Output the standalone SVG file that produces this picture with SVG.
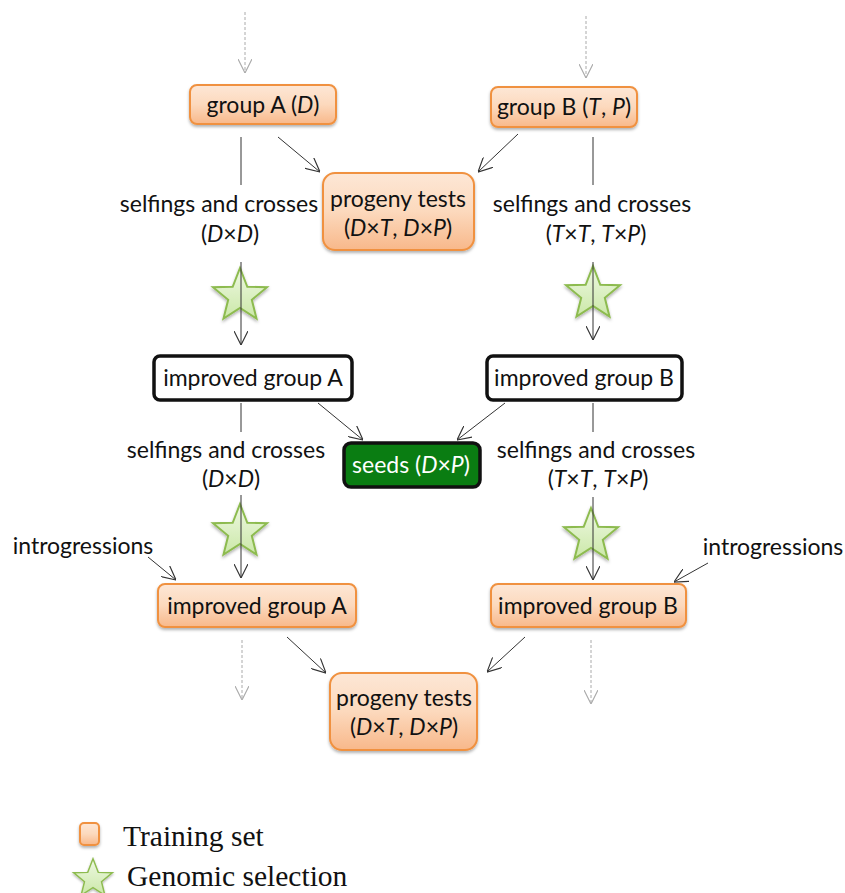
<svg xmlns="http://www.w3.org/2000/svg" width="845" height="893" viewBox="0 0 845 893">
<style>
.t{font-family:Lato,"Liberation Sans",sans-serif;font-size:23px;fill:#111;text-anchor:middle}
.i{font-style:italic}
.ob{fill:url(#og);stroke:#f0913f;stroke-width:2;filter:url(#sh)}
.wb{fill:#fff;stroke:#111;stroke-width:3.5}
.st{fill:url(#sg);stroke:#8dbb4f;stroke-width:2;filter:url(#sh)}
.c{stroke:#333;stroke-width:1;fill:none}
.ca{stroke:#333;stroke-width:1;fill:none;marker-end:url(#ah)}
.d{stroke:#aaa;stroke-width:1;fill:none;stroke-dasharray:3,2;marker-end:url(#dh)}
.lg{font-family:"Liberation Serif",serif;font-size:29.5px;fill:#111}
</style>
<defs>
<linearGradient id="og" x1="0" y1="0" x2="0" y2="1">
<stop offset="0" stop-color="#fde7d6"/><stop offset="0.5" stop-color="#fcd9bd"/><stop offset="1" stop-color="#f8b88a"/>
</linearGradient>
<linearGradient id="sg" x1="0" y1="0" x2="0" y2="1">
<stop offset="0" stop-color="#eef8e2"/><stop offset="1" stop-color="#cbe8a8"/>
</linearGradient>
<filter id="sh" x="-20%" y="-20%" width="140%" height="150%">
<feDropShadow dx="0" dy="2" stdDeviation="1.5" flood-color="#000" flood-opacity="0.3"/>
</filter>
<marker id="ah" viewBox="0 0 12 12" refX="12" refY="6" markerWidth="14" markerHeight="14" markerUnits="userSpaceOnUse" orient="auto">
<path d="M0,0 L12,6 L0,12" fill="none" stroke="#333" stroke-width="1"/>
</marker>
<marker id="dh" viewBox="0 0 12 12" refX="12" refY="6" markerWidth="14" markerHeight="14" markerUnits="userSpaceOnUse" orient="auto">
<path d="M0,0 L12,6 L0,12" fill="none" stroke="#aaa" stroke-width="1"/>
</marker>
<path id="star" d="M0,-28 L7.3,-9.2 L27,-8.8 L11.8,3.8 L16.5,22.6 L0,12 L-16.5,22.6 L-11.8,3.8 L-27,-8.8 L-7.3,-9.2 Z"/>
</defs>

<g id="stars">
<use href="#star" class="st" x="240" y="296"/>
<use href="#star" class="st" x="593" y="294"/>
<use href="#star" class="st" x="240" y="532"/>
<use href="#star" class="st" x="591" y="536"/>
</g>

<g id="connectors">
<line class="d" x1="245" y1="12" x2="245" y2="73"/>
<line class="d" x1="586" y1="16" x2="586" y2="78"/>
<line class="ca" x1="278" y1="137" x2="320" y2="172"/>
<line class="ca" x1="518" y1="134" x2="478" y2="172"/>
<line class="c" x1="241" y1="137" x2="241" y2="185"/>
<line class="ca" x1="241" y1="262" x2="241" y2="345"/>
<line class="c" x1="593" y1="137" x2="593" y2="185"/>
<line class="ca" x1="593" y1="262" x2="593" y2="340"/>
<line class="ca" x1="318" y1="403" x2="363" y2="440"/>
<line class="ca" x1="505" y1="403" x2="457" y2="440"/>
<line class="c" x1="241" y1="403" x2="241" y2="432"/>
<line class="ca" x1="241" y1="495" x2="241" y2="578"/>
<line class="c" x1="593" y1="403" x2="593" y2="432"/>
<line class="ca" x1="593" y1="497" x2="593" y2="580"/>
<line class="ca" x1="148" y1="557" x2="176" y2="580"/>
<line class="ca" x1="708" y1="563" x2="674" y2="582"/>
<line class="d" x1="242" y1="640" x2="242" y2="700"/>
<line class="d" x1="591" y1="640" x2="591" y2="704"/>
<line class="ca" x1="287" y1="637" x2="326" y2="673"/>
<line class="ca" x1="525" y1="637" x2="487" y2="672"/>
</g>

<g id="groupA">
<rect class="ob" x="190" y="85" width="146" height="39" rx="7"/>
<text class="t" x="263" y="113">group A (<tspan class="i">D</tspan>)</text>
</g>
<g id="groupB">
<rect class="ob" x="491" y="87" width="146" height="40" rx="7"/>
<text class="t" x="564" y="115">group B (<tspan class="i">T</tspan>, <tspan class="i">P</tspan>)</text>
</g>
<g id="progeny1">
<rect class="ob" x="323" y="173" width="151" height="77" rx="12"/>
<text class="t" x="398" y="207">progeny tests</text>
<text class="t" x="398" y="236">(<tspan class="i">D</tspan>×<tspan class="i">T</tspan>, <tspan class="i">D</tspan>×<tspan class="i">P</tspan>)</text>
</g>
<g id="labelA1">
<text class="t" x="219" y="212">selfings and crosses</text>
<text class="t" x="230" y="242">(<tspan class="i">D</tspan>×<tspan class="i">D</tspan>)</text>
</g>
<g id="labelB1">
<text class="t" x="592" y="212">selfings and crosses</text>
<text class="t" x="596" y="242">(<tspan class="i">T</tspan>×<tspan class="i">T</tspan>, <tspan class="i">T</tspan>×<tspan class="i">P</tspan>)</text>
</g>
<g id="improvedA1">
<rect class="wb" x="154" y="356" width="198" height="44" rx="6"/>
<text class="t" x="253" y="386">improved group A</text>
</g>
<g id="improvedB1">
<rect class="wb" x="487" y="356" width="195" height="44" rx="6"/>
<text class="t" x="584" y="386">improved group B</text>
</g>
<g id="seeds">
<rect x="344" y="443" width="136" height="44" rx="7" fill="#0a7d12" stroke="#111" stroke-width="3.5"/>
<text class="t" x="411" y="473" style="fill:#fff">seeds (<tspan class="i">D</tspan>×<tspan class="i">P</tspan>)</text>
</g>
<g id="labelA2">
<text class="t" x="226" y="458">selfings and crosses</text>
<text class="t" x="231" y="487">(<tspan class="i">D</tspan>×<tspan class="i">D</tspan>)</text>
</g>
<g id="labelB2">
<text class="t" x="596" y="458">selfings and crosses</text>
<text class="t" x="598" y="487">(<tspan class="i">T</tspan>×<tspan class="i">T</tspan>, <tspan class="i">T</tspan>×<tspan class="i">P</tspan>)</text>
</g>
<g id="introA">
<text class="t" x="83" y="554">introgressions</text>
</g>
<g id="introB">
<text class="t" x="773" y="555">introgressions</text>
</g>
<g id="improvedA2">
<rect class="ob" x="158" y="584" width="198" height="43" rx="7"/>
<text class="t" x="257" y="614">improved group A</text>
</g>
<g id="improvedB2">
<rect class="ob" x="491" y="584" width="195" height="43" rx="7"/>
<text class="t" x="588" y="614">improved group B</text>
</g>
<g id="progeny2">
<rect class="ob" x="330" y="673" width="147" height="77" rx="12"/>
<text class="t" x="404" y="706">progeny tests</text>
<text class="t" x="404" y="735">(<tspan class="i">D</tspan>×<tspan class="i">T</tspan>, <tspan class="i">D</tspan>×<tspan class="i">P</tspan>)</text>
</g>
<g id="legend">
<rect class="ob" x="80" y="823" width="19" height="22" rx="4"/>
<text class="lg" x="123" y="846">Training set</text>
<use href="#star" class="st" transform="translate(93,879) scale(0.72)"/>
<text class="lg" x="127" y="886">Genomic selection</text>
</g>
</svg>
